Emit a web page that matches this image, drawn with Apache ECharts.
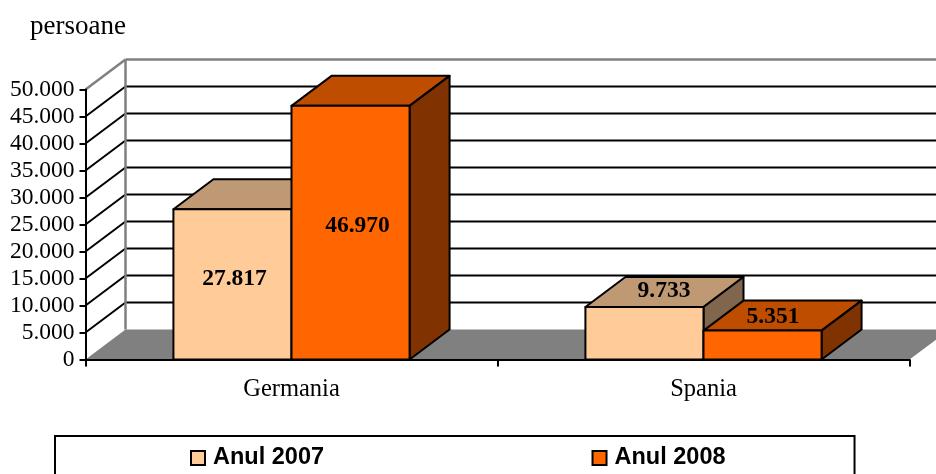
<!DOCTYPE html>
<html>
<head>
<meta charset="utf-8">
<style>
  html, body { margin: 0; padding: 0; background: #fff; }
  #chart { width: 936px; height: 474px; }
</style>
<script src="https://cdn.jsdelivr.net/npm/echarts@6/dist/echarts.min.js"></script>
</head>
<body>
<div id="chart"></div>
<script>
const categories = ['Germania', 'Spania'];
const values2007 = [27817, 9733];
const values2008 = [46970, 5351];
const wallTicks = [0, 5000, 10000, 15000, 20000, 25000, 30000, 35000, 40000, 45000, 50000];

const serif = '"Liberation Serif", "Times New Roman", serif';
const sans = '"Liberation Sans", Arial, sans-serif';
const depthX = 40;
const depthY = -30;
const barRatio = 0.2866;

function fmt(v) {
  return String(v).replace(/\B(?=(\d{3})+$)/g, '.');
}

function poly(points, fill) {
  return {
    type: 'polygon',
    shape: { points: points },
    style: { fill: fill, stroke: '#000', lineWidth: 2, lineJoin: 'round' }
  };
}

function segment(x1, y1, x2, y2, color, width) {
  return {
    type: 'line',
    shape: { x1: x1, y1: y1, x2: x2, y2: y2 },
    style: { stroke: color, lineWidth: width }
  };
}

// back wall, side wall and floor, one item per axis tick
function renderWall(params, api) {
  let v = api.value(0);
  let rect = params.coordSys;
  let p = api.coord([0, v]);
  let x = rect.x;
  let y = p[1];
  let backX = x + depthX;
  let backY = y + depthY;
  let right = rect.x + rect.width;
  let children = [];
  if (v === 0) {
    children.push({
      type: 'polygon',
      shape: { points: [[x, y], [backX, backY], [right + depthX, backY], [right, y]] },
      style: { fill: '#808080' }
    });
    return { type: 'group', children: children };
  }
  let isTop = v === wallTicks[wallTicks.length - 1];
  let color = isTop ? '#808080' : '#000';
  let width = isTop ? 2.5 : 2;
  children.push(segment(x, y, backX, backY, color, width));
  children.push(segment(backX, backY, right + depthX, backY, color, width));
  if (isTop) {
    let floorY = api.coord([0, 0])[1] + depthY;
    children.push(segment(backX, backY, backX, floorY, '#808080', 2.5));
  }
  return { type: 'group', children: children };
}

// side: -1 bar left of the category centre, 0 bar right of it
function makeBarRenderer(side, colors, labelShift) {
  return function (params, api) {
    let i = params.dataIndex;
    let v = api.value(1);
    let top = api.coord([i, v]);
    let base = api.coord([i, 0]);
    let w = api.size([1, 0])[0] * barRatio;
    let x0 = top[0] + side * w;
    let x1 = x0 + w;
    let shift = labelShift[i];
    return {
      type: 'group',
      children: [
        poly([[x0, top[1]], [x1, top[1]], [x1 + depthX, top[1] + depthY], [x0 + depthX, top[1] + depthY]], colors.top),
        poly([[x1, top[1]], [x1 + depthX, top[1] + depthY], [x1 + depthX, base[1] + depthY], [x1, base[1]]], colors.side),
        poly([[x0, top[1]], [x1, top[1]], [x1, base[1]], [x0, base[1]]], colors.front),
        {
          type: 'text',
          style: {
            text: fmt(v),
            x: (x0 + x1) / 2 + shift[0],
            y: (top[1] + base[1]) / 2 + shift[1],
            align: 'center',
            verticalAlign: 'middle',
            fill: '#000',
            font: 'bold 23.5px ' + serif
          }
        }
      ]
    };
  };
}

const chart = echarts.init(document.getElementById('chart'), null, { renderer: 'canvas' });

chart.setOption({
  animation: false,
  backgroundColor: '#fff',
  title: {
    text: 'persoane',
    left: 30,
    top: 13,
    padding: 0,
    textStyle: { fontFamily: serif, fontWeight: 'normal', fontSize: 27, color: '#000' }
  },
  legend: {
    data: [
      { name: 'Anul 2007', icon: 'rect' },
      { name: 'Anul 2008', icon: 'rect' }
    ],
    left: 55,
    top: 436,
    padding: [10, 129, 40, 135],
    itemGap: 267.5,
    itemWidth: 14,
    itemHeight: 14,
    borderColor: '#000',
    borderWidth: 2,
    backgroundColor: '#fff',
    itemStyle: { borderColor: '#000', borderWidth: 2 },
    textStyle: { fontFamily: sans, fontWeight: 'bold', fontSize: 23.5, color: '#000', padding: [3, 0, 0, 3] },
    selectedMode: false
  },
  grid: { left: 85.5, right: 26.5, top: 89.5, bottom: 114.5 },
  xAxis: {
    type: 'category',
    data: categories,
    z: 5,
    axisLine: { lineStyle: { color: '#000', width: 2 } },
    axisTick: { show: true, length: 7, lineStyle: { color: '#000', width: 2 } },
    axisLabel: { margin: 18, fontFamily: serif, fontSize: 24.5, color: '#000' }
  },
  yAxis: {
    type: 'value',
    min: 0,
    max: 50000,
    interval: 5000,
    z: 5,
    axisLine: { show: true, lineStyle: { color: '#000', width: 2 } },
    axisTick: { show: true, length: 6, lineStyle: { color: '#000', width: 2 } },
    axisLabel: { margin: 11, fontFamily: serif, fontSize: 23.5, color: '#000', padding: [4, 0, 0, 0], formatter: fmt },
    splitLine: { show: false }
  },
  series: [
    {
      type: 'custom',
      name: 'wall',
      silent: true,
      clip: false,
      z: 1,
      renderItem: renderWall,
      data: wallTicks.map(function (v) { return [v]; }),
      encode: { y: 0 }
    },
    {
      type: 'custom',
      name: 'Anul 2007',
      clip: false,
      z: 2,
      itemStyle: { color: '#FFCC99' },
      renderItem: makeBarRenderer(-1, { front: '#FFCC99', top: '#BF9973', side: '#80664D' }, [[2, -5], [19.5, -42]]),
      data: categories.map(function (c, i) { return [c, values2007[i]]; }),
      encode: { x: 0, y: 1 }
    },
    {
      type: 'custom',
      name: 'Anul 2008',
      clip: false,
      z: 3,
      itemStyle: { color: '#FF6600' },
      renderItem: makeBarRenderer(0, { front: '#FF6600', top: '#BF4D00', side: '#803300' }, [[7, -7], [10.5, -28]]),
      data: categories.map(function (c, i) { return [c, values2008[i]]; }),
      encode: { x: 0, y: 1 }
    }
  ]
});
</script>
</body>
</html>
